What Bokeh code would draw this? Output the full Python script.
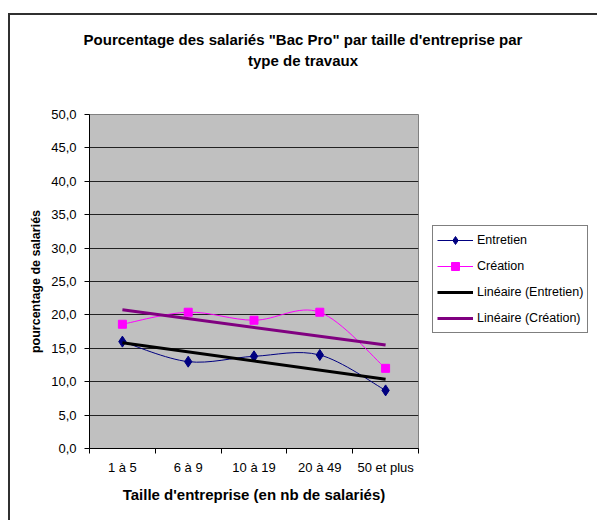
import html
import numpy as np
from bokeh.plotting import figure
from bokeh.layouts import column
from bokeh.models import (FixedTicker, CustomJSTickFormatter, Legend, Div,
                          LegendItem, ColumnDataSource)
from bokeh.embed import file_html
from bokeh.resources import INLINE

# ---- data ----
categories = ["1 à 5", "6 à 9", "10 à 19", "20 à 49", "50 et plus"]
entretien = [16.0, 13.0, 13.8, 14.0, 8.7]
creation = [18.6, 20.4, 19.2, 20.4, 12.0]
y_ticks = [0, 5, 10, 15, 20, 25, 30, 35, 40, 45, 50]
title_lines = ['Pourcentage des salariés "Bac Pro" par taille d\'entreprise par',
               "type de travaux"]
x_label = "Taille d'entreprise (en nb de salariés)"
y_label = "pourcentage de salariés"
series_names = ["Entretien", "Création", "Linéaire (Entretien)", "Linéaire (Création)"]

FONT = "Liberation Sans"
W = 586

xs = [i + 0.5 for i in range(len(categories))]
bounds = list(range(len(categories) + 1))


def smooth_source(x, y):
    n = len(x)
    d = dict(x0=[], y0=[], x1=[], y1=[], cx0=[], cy0=[], cx1=[], cy1=[])
    for i in range(n - 1):
        a, b = max(i - 1, 0), min(i + 2, n - 1)
        d["x0"].append(x[i]); d["y0"].append(y[i])
        d["x1"].append(x[i + 1]); d["y1"].append(y[i + 1])
        d["cx0"].append(x[i] + (x[i + 1] - x[a]) / 6)
        d["cy0"].append(y[i] + (y[i + 1] - y[a]) / 6)
        d["cx1"].append(x[i + 1] - (x[b] - x[i]) / 6)
        d["cy1"].append(y[i + 1] - (y[b] - y[i]) / 6)
    return ColumnDataSource(d)


title_div = Div(
    text=('<div style="width:%dpx; text-align:center; font-family:\'%s\'; '
          'font-weight:bold; font-size:15px; line-height:21px; padding-top:14px; '
          'color:black">%s</div>') % (W, FONT, "<br>".join(html.escape(t, quote=False)
                                                            for t in title_lines)),
    width=W, height=56, margin=0)

p = figure(width=W, height=449, frame_width=329, frame_height=334,
           x_range=(0, len(categories)), y_range=(0, 50),
           output_backend="svg", toolbar_location=None, margin=0,
           min_border_left=79, min_border_right=178, min_border_top=43,
           min_border_bottom=72)

p.background_fill_color = "#c0c0c0"
p.border_fill_color = "white"
p.outline_line_color = "#808080"
p.outline_line_width = 1

# axes
p.xaxis.ticker = FixedTicker(ticks=xs, minor_ticks=bounds)
p.xaxis.formatter = CustomJSTickFormatter(args=dict(cats=categories),
                                          code="return cats[Math.round(tick - 0.5)]")
p.yaxis.ticker = FixedTicker(ticks=y_ticks)
p.yaxis.formatter = CustomJSTickFormatter(code="return tick.toFixed(1).replace('.', ',')")
for ax in (p.xaxis, p.yaxis):
    ax.axis_line_color = "black"
    ax.major_label_text_font = FONT
    ax.major_label_text_font_size = "13px"
    ax.major_label_text_color = "black"
    ax.axis_label_text_font = FONT
    ax.axis_label_text_font_style = "bold"
    ax.axis_label_text_color = "black"
p.xaxis.axis_label_text_font_size = "15px"
p.yaxis.axis_label_text_font_size = "12.5px"
p.xaxis.major_tick_line_color = None
p.xaxis.minor_tick_line_color = "black"
p.xaxis.minor_tick_in = 0
p.xaxis.minor_tick_out = 5
p.yaxis.major_tick_line_color = "black"
p.yaxis.major_tick_in = 0
p.yaxis.major_tick_out = 5
p.yaxis.minor_tick_line_color = None
p.xaxis.major_label_standoff = 5
p.xaxis.axis_label_standoff = 8
p.yaxis.major_label_standoff = 8
p.yaxis.axis_label_standoff = 5
p.xaxis.axis_label = x_label
p.yaxis.axis_label = y_label

p.xgrid.grid_line_color = None
p.ygrid.grid_line_color = "#222222"
p.ygrid.grid_line_width = 1
p.ygrid.ticker = FixedTicker(ticks=y_ticks)

# series
src_e = smooth_source(xs, entretien)
src_c = smooth_source(xs, creation)
bz_e = p.bezier(x0="x0", y0="y0", x1="x1", y1="y1", cx0="cx0", cy0="cy0",
                cx1="cx1", cy1="cy1", source=src_e, line_color="#000080", line_width=1)
sc_e = p.scatter(xs, entretien, marker="diamond", size=11,
                 fill_color="#000080", line_color="#000080")
bz_c = p.bezier(x0="x0", y0="y0", x1="x1", y1="y1", cx0="cx0", cy0="cy0",
                cx1="cx1", cy1="cy1", source=src_c, line_color="#ff00ff", line_width=1)
sc_c = p.scatter(xs, creation, marker="square", size=8,
                 fill_color="#ff00ff", line_color="#ff00ff")

# linear trend lines
ke, be = np.polyfit(xs, entretien, 1)
kc, bc = np.polyfit(xs, creation, 1)
tr_e = p.line([xs[0], xs[-1]], [ke * xs[0] + be, ke * xs[-1] + be],
              line_color="black", line_width=3)
tr_c = p.line([xs[0], xs[-1]], [kc * xs[0] + bc, kc * xs[-1] + bc],
              line_color="#800080", line_width=3)

legend = Legend(items=[LegendItem(label=series_names[0], renderers=[bz_e, sc_e]),
                       LegendItem(label=series_names[1], renderers=[bz_c, sc_c]),
                       LegendItem(label=series_names[2], renderers=[tr_e]),
                       LegendItem(label=series_names[3], renderers=[tr_c])],
                location=(14, 115))
legend.border_line_color = "black"
legend.border_line_width = 1
legend.background_fill_color = "white"
legend.background_fill_alpha = 1
legend.label_text_font = FONT
legend.label_text_font_size = "12.5px"
legend.label_text_color = "black"
legend.glyph_width = 36
legend.glyph_height = 20
legend.label_height = 20
legend.label_standoff = 4
legend.spacing = 6
legend.padding = 4
legend.margin = 0
p.add_layout(legend, "right")

layout = column(title_div, p, spacing=0,
                styles={"border-left": "2px solid #303030",
                        "border-top": "2px solid #303030",
                        "margin-left": "8px", "margin-top": "13px"})

open("out.html", "w").write(file_html(layout, INLINE))
